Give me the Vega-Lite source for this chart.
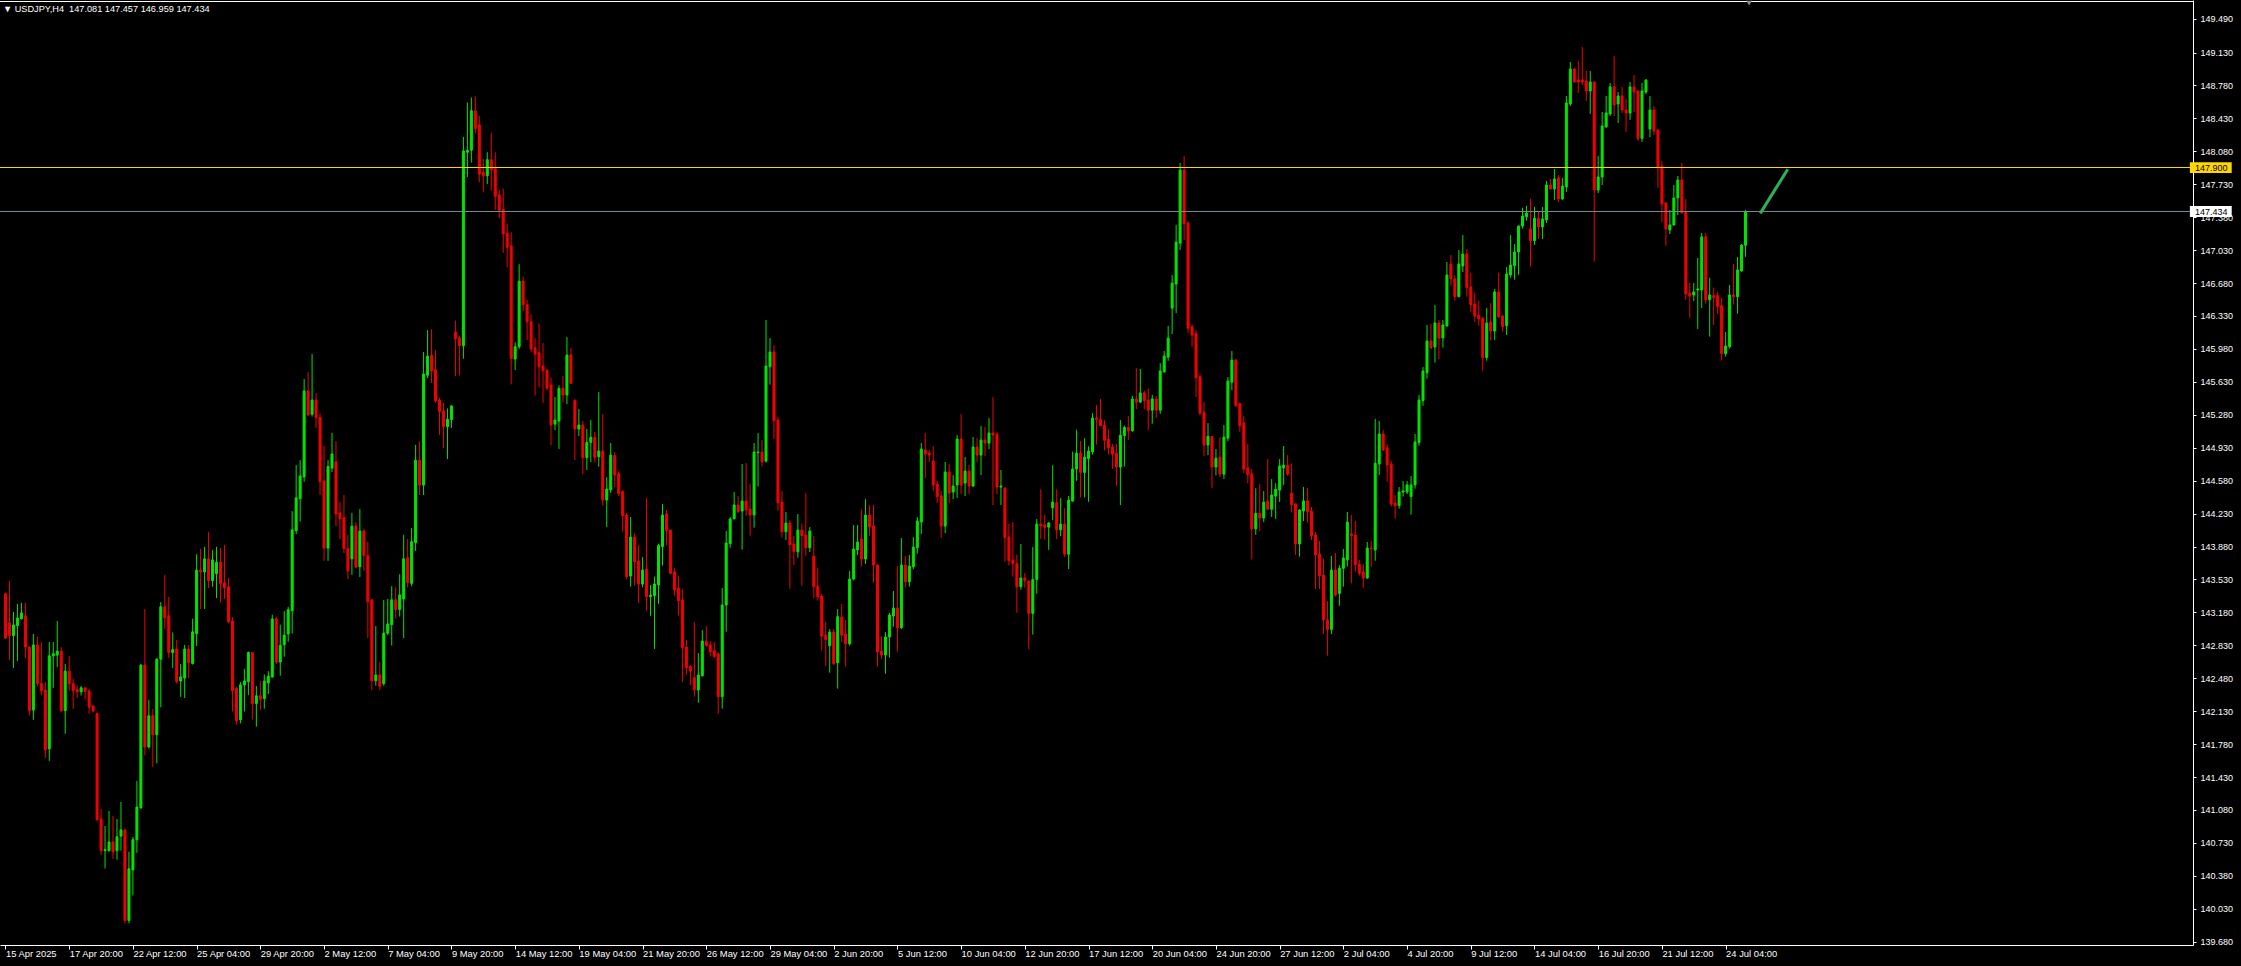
{
"$schema": "https://vega.github.io/schema/vega-lite/v6.json",
"width": 2193, "height": 945,
"autosize": {"type": "none"},
"padding": {"left": 0, "top": 0, "right": 48, "bottom": 21},
"background": "#000000",
"config": {"view": {"stroke": null}, "axis": {"grid": false, "labelOverlap": false}},
"title": {"text": "▼ USDJPY,H4\u00a0 147.081 147.457 146.959 147.434", "anchor": "start", "frame": "group", "orient": "top", "offset": -14, "dx": 3, "color": "#FFFFFF", "font": "Liberation Sans", "fontSize": 9.2, "fontWeight": "normal"},
"datasets": {
"candles": [
{"i":0,"o":143.378,"h":143.39,"l":142.896,"c":142.907},
{"i":1,"o":143.069,"h":143.514,"l":142.675,"c":142.934},
{"i":2,"o":142.934,"h":143.185,"l":142.59,"c":143.046},
{"i":3,"o":143.038,"h":143.27,"l":142.664,"c":143.12},
{"i":4,"o":143.112,"h":143.282,"l":143.104,"c":143.174},
{"i":5,"o":143.143,"h":143.282,"l":142.695,"c":142.811},
{"i":6,"o":142.811,"h":142.822,"l":142.084,"c":142.135},
{"i":7,"o":142.142,"h":142.95,"l":142.038,"c":142.834},
{"i":8,"o":142.834,"h":142.919,"l":142.393,"c":142.424},
{"i":9,"o":142.424,"h":142.865,"l":142.301,"c":142.347},
{"i":10,"o":142.355,"h":142.44,"l":141.633,"c":141.718},
{"i":11,"o":141.729,"h":142.865,"l":141.602,"c":142.718},
{"i":12,"o":142.718,"h":142.865,"l":142.378,"c":142.741},
{"i":13,"o":142.726,"h":143.089,"l":142.598,"c":142.768},
{"i":14,"o":142.768,"h":142.811,"l":142.12,"c":142.135},
{"i":15,"o":142.135,"h":142.633,"l":141.891,"c":142.556},
{"i":16,"o":142.556,"h":142.718,"l":142.347,"c":142.42},
{"i":17,"o":142.42,"h":142.478,"l":142.154,"c":142.347},
{"i":18,"o":142.359,"h":142.405,"l":142.27,"c":142.336},
{"i":19,"o":142.336,"h":142.397,"l":142.297,"c":142.378},
{"i":20,"o":142.378,"h":142.386,"l":142.258,"c":142.339},
{"i":21,"o":142.343,"h":142.366,"l":142.104,"c":142.173},
{"i":22,"o":142.185,"h":142.196,"l":142.115,"c":142.131},
{"i":23,"o":142.104,"h":142.115,"l":140.964,"c":140.976},
{"i":24,"o":140.984,"h":141.092,"l":140.601,"c":140.648},
{"i":25,"o":140.648,"h":140.91,"l":140.458,"c":140.659},
{"i":26,"o":140.648,"h":141.069,"l":140.636,"c":140.74},
{"i":27,"o":140.74,"h":141.018,"l":140.559,"c":140.636},
{"i":28,"o":140.648,"h":140.984,"l":140.551,"c":140.794},
{"i":29,"o":140.802,"h":141.165,"l":140.648,"c":140.868},
{"i":30,"o":140.868,"h":140.875,"l":139.875,"c":139.906},
{"i":31,"o":139.906,"h":140.636,"l":139.875,"c":140.455},
{"i":32,"o":140.443,"h":140.794,"l":140.173,"c":140.764},
{"i":33,"o":140.764,"h":141.389,"l":140.624,"c":141.111},
{"i":34,"o":141.103,"h":142.63,"l":141.092,"c":142.62},
{"i":35,"o":142.62,"h":143.216,"l":141.66,"c":141.749},
{"i":36,"o":141.749,"h":142.251,"l":141.733,"c":142.081},
{"i":37,"o":142.081,"h":142.154,"l":141.536,"c":141.88},
{"i":38,"o":141.88,"h":142.69,"l":141.575,"c":142.683},
{"i":39,"o":142.683,"h":143.29,"l":142.173,"c":143.239},
{"i":40,"o":143.239,"h":143.579,"l":143.004,"c":143.123},
{"i":41,"o":143.143,"h":143.344,"l":142.695,"c":142.753},
{"i":42,"o":142.753,"h":142.965,"l":142.587,"c":142.784},
{"i":43,"o":142.791,"h":142.888,"l":142.424,"c":142.444},
{"i":44,"o":142.451,"h":142.633,"l":142.282,"c":142.494},
{"i":45,"o":142.482,"h":142.834,"l":142.27,"c":142.791},
{"i":46,"o":142.791,"h":142.834,"l":142.482,"c":142.645},
{"i":47,"o":142.637,"h":143.112,"l":142.625,"c":142.973},
{"i":48,"o":142.954,"h":143.799,"l":142.822,"c":143.629},
{"i":49,"o":143.629,"h":143.853,"l":143.216,"c":143.61},
{"i":50,"o":143.61,"h":143.877,"l":143.216,"c":143.749},
{"i":51,"o":143.749,"h":144.035,"l":143.44,"c":143.518},
{"i":52,"o":143.518,"h":143.842,"l":143.452,"c":143.738},
{"i":53,"o":143.591,"h":143.877,"l":143.332,"c":143.714},
{"i":54,"o":143.714,"h":143.865,"l":143.286,"c":143.487},
{"i":55,"o":143.494,"h":143.896,"l":143.324,"c":143.44},
{"i":56,"o":143.452,"h":143.545,"l":143.066,"c":143.081},
{"i":57,"o":143.089,"h":143.131,"l":142.127,"c":142.347},
{"i":58,"o":142.37,"h":142.39,"l":141.988,"c":142.027},
{"i":59,"o":142.038,"h":142.44,"l":142.0,"c":142.409},
{"i":60,"o":142.409,"h":142.579,"l":142.127,"c":142.451},
{"i":61,"o":142.444,"h":142.764,"l":142.301,"c":142.753},
{"i":62,"o":142.753,"h":142.76,"l":142.042,"c":142.212},
{"i":63,"o":142.212,"h":142.397,"l":141.965,"c":142.293},
{"i":64,"o":142.293,"h":142.451,"l":142.142,"c":142.258},
{"i":65,"o":142.264,"h":142.52,"l":142.158,"c":142.449},
{"i":66,"o":142.431,"h":142.555,"l":142.313,"c":142.502},
{"i":67,"o":142.493,"h":143.154,"l":142.485,"c":143.11},
{"i":68,"o":143.11,"h":143.136,"l":142.63,"c":142.652},
{"i":69,"o":142.652,"h":143.049,"l":142.507,"c":142.828},
{"i":70,"o":142.837,"h":143.194,"l":142.709,"c":142.938},
{"i":71,"o":142.951,"h":143.238,"l":142.868,"c":143.207},
{"i":72,"o":143.198,"h":144.256,"l":142.956,"c":144.057},
{"i":73,"o":144.048,"h":144.745,"l":144.013,"c":144.397},
{"i":74,"o":144.388,"h":144.797,"l":144.145,"c":144.63},
{"i":75,"o":144.621,"h":145.661,"l":144.568,"c":145.533},
{"i":76,"o":145.533,"h":145.736,"l":145.273,"c":145.277},
{"i":77,"o":145.286,"h":145.925,"l":145.26,"c":145.436},
{"i":78,"o":145.436,"h":145.511,"l":145.141,"c":145.251},
{"i":79,"o":145.251,"h":145.295,"l":144.427,"c":144.568},
{"i":80,"o":144.577,"h":144.951,"l":143.727,"c":143.863},
{"i":81,"o":143.863,"h":144.797,"l":143.727,"c":144.731},
{"i":82,"o":144.714,"h":145.088,"l":144.67,"c":144.863},
{"i":83,"o":144.78,"h":145.0,"l":144.097,"c":144.225},
{"i":84,"o":144.238,"h":144.352,"l":143.96,"c":144.172},
{"i":85,"o":144.185,"h":144.427,"l":143.811,"c":143.859},
{"i":86,"o":143.859,"h":144.004,"l":143.533,"c":143.621},
{"i":87,"o":143.749,"h":144.238,"l":143.577,"c":144.097},
{"i":88,"o":144.097,"h":144.141,"l":143.656,"c":143.661},
{"i":89,"o":143.665,"h":144.278,"l":143.555,"c":144.044},
{"i":90,"o":144.044,"h":144.07,"l":143.621,"c":143.784},
{"i":91,"o":143.784,"h":143.93,"l":142.907,"c":143.295},
{"i":92,"o":143.313,"h":143.322,"l":142.352,"c":142.454},
{"i":93,"o":142.454,"h":143.035,"l":142.401,"c":142.515},
{"i":94,"o":142.515,"h":142.652,"l":142.352,"c":142.396},
{"i":95,"o":142.423,"h":143.313,"l":142.4,"c":142.96},
{"i":96,"o":142.96,"h":143.322,"l":142.94,"c":143.057},
{"i":97,"o":143.049,"h":143.458,"l":142.828,"c":143.313},
{"i":98,"o":143.313,"h":143.445,"l":143.115,"c":143.211},
{"i":99,"o":143.211,"h":143.586,"l":143.136,"c":143.366},
{"i":100,"o":143.322,"h":144.004,"l":142.907,"c":143.749},
{"i":101,"o":143.762,"h":143.96,"l":143.445,"c":143.498},
{"i":102,"o":143.489,"h":144.075,"l":143.458,"c":143.93},
{"i":103,"o":143.921,"h":144.96,"l":143.832,"c":144.797},
{"i":104,"o":144.797,"h":145.0,"l":144.427,"c":144.533},
{"i":105,"o":144.533,"h":145.947,"l":144.427,"c":145.713},
{"i":106,"o":145.7,"h":146.18,"l":145.669,"c":145.903},
{"i":107,"o":145.912,"h":146.189,"l":145.617,"c":145.744},
{"i":108,"o":145.758,"h":145.969,"l":145.409,"c":145.427},
{"i":109,"o":145.436,"h":145.462,"l":145.066,"c":145.313},
{"i":110,"o":145.322,"h":145.405,"l":144.929,"c":145.154},
{"i":111,"o":145.154,"h":145.348,"l":144.81,"c":145.233},
{"i":112,"o":145.229,"h":145.38,"l":145.141,"c":145.374},
{"i":113,"o":146.158,"h":146.282,"l":145.692,"c":146.088},
{"i":114,"o":146.097,"h":146.123,"l":145.7,"c":146.013},
{"i":115,"o":146.013,"h":148.233,"l":145.876,"c":148.083},
{"i":116,"o":148.07,"h":148.599,"l":147.806,"c":148.092},
{"i":117,"o":148.092,"h":148.652,"l":147.96,"c":148.511},
{"i":118,"o":148.511,"h":148.661,"l":148.269,"c":148.321},
{"i":119,"o":148.361,"h":148.454,"l":147.753,"c":147.837},
{"i":120,"o":147.854,"h":147.999,"l":147.643,"c":147.819},
{"i":121,"o":147.819,"h":148.07,"l":147.731,"c":147.991},
{"i":122,"o":147.991,"h":148.277,"l":147.661,"c":147.881},
{"i":123,"o":147.894,"h":148.07,"l":147.458,"c":147.603},
{"i":124,"o":147.617,"h":147.669,"l":147.37,"c":147.454},
{"i":125,"o":147.462,"h":147.683,"l":147.0,"c":147.202},
{"i":126,"o":147.211,"h":147.313,"l":146.846,"c":147.061},
{"i":127,"o":147.075,"h":147.22,"l":145.603,"c":145.876},
{"i":128,"o":145.872,"h":146.05,"l":145.755,"c":146.003},
{"i":129,"o":146.003,"h":146.88,"l":145.98,"c":146.7},
{"i":130,"o":146.7,"h":146.75,"l":146.38,"c":146.45},
{"i":131,"o":146.45,"h":146.5,"l":146.074,"c":146.269},
{"i":132,"o":146.269,"h":146.35,"l":145.95,"c":145.979},
{"i":133,"o":145.993,"h":146.095,"l":145.483,"c":145.925},
{"i":134,"o":145.94,"h":146.251,"l":145.571,"c":145.791},
{"i":135,"o":145.798,"h":146.042,"l":145.405,"c":145.748},
{"i":136,"o":145.755,"h":145.76,"l":145.543,"c":145.564},
{"i":137,"o":145.596,"h":145.677,"l":144.958,"c":145.171},
{"i":138,"o":145.182,"h":145.468,"l":145.118,"c":145.224},
{"i":139,"o":145.213,"h":145.593,"l":144.916,"c":145.561},
{"i":140,"o":145.561,"h":145.692,"l":145.415,"c":145.49},
{"i":141,"o":145.49,"h":146.106,"l":145.394,"c":145.915},
{"i":142,"o":145.915,"h":145.989,"l":145.607,"c":145.614},
{"i":143,"o":145.43,"h":145.447,"l":144.799,"c":145.128},
{"i":144,"o":145.128,"h":145.341,"l":145.054,"c":145.171},
{"i":145,"o":145.171,"h":145.213,"l":144.65,"c":144.824},
{"i":146,"o":144.824,"h":145.128,"l":144.693,"c":144.987},
{"i":147,"o":144.987,"h":145.224,"l":144.778,"c":145.04},
{"i":148,"o":145.04,"h":145.097,"l":144.771,"c":144.827},
{"i":149,"o":144.834,"h":145.522,"l":144.728,"c":144.895},
{"i":150,"o":144.895,"h":145.288,"l":144.314,"c":144.374},
{"i":151,"o":144.374,"h":144.618,"l":144.087,"c":144.491},
{"i":152,"o":144.48,"h":144.98,"l":144.448,"c":144.852},
{"i":153,"o":144.845,"h":144.884,"l":144.512,"c":144.64},
{"i":154,"o":144.654,"h":144.682,"l":144.416,"c":144.445},
{"i":155,"o":144.462,"h":144.48,"l":144.044,"c":144.207},
{"i":156,"o":144.214,"h":144.236,"l":143.531,"c":143.559},
{"i":157,"o":143.566,"h":144.193,"l":143.453,"c":143.981},
{"i":158,"o":143.981,"h":144.023,"l":143.464,"c":143.719},
{"i":159,"o":143.726,"h":143.896,"l":143.279,"c":143.481},
{"i":160,"o":143.481,"h":143.768,"l":143.446,"c":143.63},
{"i":161,"o":143.641,"h":144.395,"l":143.194,"c":143.347},
{"i":162,"o":143.347,"h":143.471,"l":143.145,"c":143.364},
{"i":163,"o":143.357,"h":143.559,"l":142.791,"c":143.481},
{"i":164,"o":143.471,"h":143.91,"l":143.272,"c":143.889},
{"i":165,"o":143.878,"h":144.331,"l":143.676,"c":144.215},
{"i":166,"o":144.225,"h":144.268,"l":143.896,"c":144.048},
{"i":167,"o":144.055,"h":144.06,"l":143.584,"c":143.595},
{"i":168,"o":143.609,"h":143.651,"l":143.357,"c":143.418},
{"i":169,"o":143.439,"h":143.57,"l":143.145,"c":143.304},
{"i":170,"o":143.311,"h":143.428,"l":142.443,"c":142.805},
{"i":171,"o":142.812,"h":142.886,"l":142.518,"c":142.592},
{"i":172,"o":142.603,"h":142.62,"l":142.408,"c":142.557},
{"i":173,"o":142.486,"h":143.077,"l":142.284,"c":142.358},
{"i":174,"o":142.355,"h":142.748,"l":142.22,"c":142.514},
{"i":175,"o":142.507,"h":142.992,"l":142.497,"c":142.875},
{"i":176,"o":142.875,"h":143.035,"l":142.815,"c":142.826},
{"i":177,"o":142.833,"h":142.875,"l":142.709,"c":142.762},
{"i":178,"o":142.773,"h":142.865,"l":142.698,"c":142.709},
{"i":179,"o":142.737,"h":142.759,"l":142.103,"c":142.284},
{"i":180,"o":142.284,"h":143.439,"l":142.156,"c":143.258},
{"i":181,"o":143.258,"h":144.044,"l":142.975,"c":143.917},
{"i":182,"o":143.91,"h":144.193,"l":143.867,"c":144.172},
{"i":183,"o":144.175,"h":144.459,"l":144.165,"c":144.321},
{"i":184,"o":144.321,"h":144.416,"l":144.236,"c":144.25},
{"i":185,"o":144.257,"h":144.756,"l":143.846,"c":144.363},
{"i":186,"o":144.363,"h":144.767,"l":144.207,"c":144.268},
{"i":187,"o":144.278,"h":144.547,"l":143.995,"c":144.215},
{"i":188,"o":144.215,"h":144.98,"l":144.08,"c":144.884},
{"i":189,"o":144.877,"h":145.086,"l":144.516,"c":144.884},
{"i":190,"o":144.884,"h":145.012,"l":144.728,"c":144.781},
{"i":191,"o":144.788,"h":146.287,"l":144.771,"c":145.798},
{"i":192,"o":145.791,"h":146.095,"l":145.6,"c":145.947},
{"i":193,"o":145.947,"h":146.02,"l":145.022,"c":145.217},
{"i":194,"o":145.224,"h":145.26,"l":144.26,"c":144.345},
{"i":195,"o":144.352,"h":144.469,"l":143.973,"c":144.037},
{"i":196,"o":144.037,"h":144.246,"l":143.949,"c":144.129},
{"i":197,"o":144.129,"h":144.161,"l":143.431,"c":143.899},
{"i":198,"o":143.906,"h":143.991,"l":143.683,"c":143.825},
{"i":199,"o":143.825,"h":144.225,"l":143.761,"c":144.055},
{"i":200,"o":144.055,"h":144.126,"l":143.463,"c":143.995},
{"i":201,"o":144.002,"h":144.448,"l":143.782,"c":143.867},
{"i":202,"o":143.867,"h":144.087,"l":143.821,"c":144.044},
{"i":203,"o":143.779,"h":143.991,"l":143.329,"c":143.453},
{"i":204,"o":143.46,"h":143.651,"l":143.304,"c":143.346},
{"i":205,"o":143.354,"h":143.375,"l":142.773,"c":142.928},
{"i":206,"o":142.939,"h":143.077,"l":142.61,"c":142.89},
{"i":207,"o":142.826,"h":143.003,"l":142.539,"c":142.971},
{"i":208,"o":142.971,"h":143.003,"l":142.62,"c":142.635},
{"i":209,"o":142.645,"h":143.215,"l":142.369,"c":143.134},
{"i":210,"o":143.13,"h":143.269,"l":142.868,"c":142.939},
{"i":211,"o":142.95,"h":143.098,"l":142.603,"c":142.847},
{"i":212,"o":142.847,"h":143.619,"l":142.826,"c":143.534},
{"i":213,"o":143.534,"h":144.108,"l":143.52,"c":143.853},
{"i":214,"o":143.843,"h":144.108,"l":143.789,"c":143.927},
{"i":215,"o":143.959,"h":144.278,"l":143.665,"c":143.747},
{"i":216,"o":143.747,"h":144.384,"l":143.694,"c":144.214},
{"i":217,"o":144.214,"h":144.321,"l":143.991,"c":144.087},
{"i":218,"o":144.098,"h":144.321,"l":143.495,"c":143.683},
{"i":219,"o":143.683,"h":143.69,"l":142.603,"c":142.762},
{"i":220,"o":142.769,"h":142.928,"l":142.684,"c":142.727},
{"i":221,"o":142.727,"h":142.971,"l":142.528,"c":142.918},
{"i":222,"o":142.918,"h":143.173,"l":142.698,"c":143.152},
{"i":223,"o":143.141,"h":143.407,"l":143.028,"c":143.226},
{"i":224,"o":143.226,"h":143.672,"l":142.762,"c":143.017},
{"i":225,"o":143.017,"h":143.97,"l":143.005,"c":143.683},
{"i":226,"o":143.683,"h":143.779,"l":143.442,"c":143.506},
{"i":227,"o":143.506,"h":143.789,"l":143.453,"c":143.672},
{"i":228,"o":143.665,"h":143.981,"l":143.641,"c":143.874},
{"i":229,"o":143.867,"h":144.193,"l":143.803,"c":144.151},
{"i":230,"o":144.14,"h":144.979,"l":144.012,"c":144.916},
{"i":231,"o":144.905,"h":145.086,"l":144.608,"c":144.863},
{"i":232,"o":144.873,"h":144.905,"l":144.778,"c":144.852},
{"i":233,"o":144.788,"h":144.948,"l":144.469,"c":144.533},
{"i":234,"o":144.544,"h":144.576,"l":144.342,"c":144.409},
{"i":235,"o":144.416,"h":144.469,"l":143.97,"c":144.097},
{"i":236,"o":144.097,"h":144.778,"l":144.023,"c":144.671},
{"i":237,"o":144.671,"h":144.756,"l":144.342,"c":144.448},
{"i":238,"o":144.459,"h":144.639,"l":144.384,"c":144.523},
{"i":239,"o":144.533,"h":145.064,"l":144.395,"c":145.022},
{"i":240,"o":145.022,"h":145.288,"l":144.437,"c":144.533},
{"i":241,"o":144.554,"h":144.831,"l":144.416,"c":144.682},
{"i":242,"o":144.682,"h":144.746,"l":144.437,"c":144.523},
{"i":243,"o":144.523,"h":145.043,"l":144.512,"c":144.937},
{"i":244,"o":144.937,"h":145.033,"l":144.778,"c":144.852},
{"i":245,"o":144.852,"h":145.16,"l":144.639,"c":145.011},
{"i":246,"o":145.011,"h":145.15,"l":144.841,"c":144.98},
{"i":247,"o":144.98,"h":145.245,"l":144.916,"c":145.086},
{"i":248,"o":145.086,"h":145.468,"l":144.321,"c":145.065},
{"i":249,"o":145.075,"h":145.096,"l":144.437,"c":144.512},
{"i":250,"o":144.512,"h":144.693,"l":144.321,"c":144.523},
{"i":251,"o":144.501,"h":144.51,"l":143.718,"c":143.973},
{"i":252,"o":143.981,"h":144.119,"l":143.676,"c":143.729},
{"i":253,"o":143.736,"h":144.14,"l":143.559,"c":143.697},
{"i":254,"o":143.697,"h":143.793,"l":143.176,"c":143.453},
{"i":255,"o":143.453,"h":143.906,"l":143.421,"c":143.545},
{"i":256,"o":143.545,"h":143.598,"l":143.442,"c":143.517},
{"i":257,"o":143.513,"h":143.52,"l":142.787,"c":143.169},
{"i":258,"o":143.169,"h":143.874,"l":142.943,"c":143.529},
{"i":259,"o":143.529,"h":144.172,"l":143.378,"c":144.118},
{"i":260,"o":144.118,"h":144.488,"l":143.96,"c":144.1},
{"i":261,"o":144.111,"h":144.219,"l":143.953,"c":144.086},
{"i":262,"o":144.086,"h":144.14,"l":143.845,"c":144.129},
{"i":263,"o":144.291,"h":144.744,"l":144.158,"c":144.352},
{"i":264,"o":144.345,"h":144.488,"l":143.96,"c":144.057},
{"i":265,"o":144.057,"h":144.395,"l":143.989,"c":144.118},
{"i":266,"o":144.118,"h":144.287,"l":143.77,"c":143.799},
{"i":267,"o":143.799,"h":144.417,"l":143.64,"c":144.373},
{"i":268,"o":144.363,"h":144.887,"l":144.355,"c":144.704},
{"i":269,"o":144.704,"h":145.121,"l":144.578,"c":144.873},
{"i":270,"o":144.873,"h":145.002,"l":144.402,"c":144.668},
{"i":271,"o":144.668,"h":145.031,"l":144.402,"c":144.83},
{"i":272,"o":144.815,"h":144.945,"l":144.355,"c":144.894},
{"i":273,"o":144.887,"h":145.297,"l":144.858,"c":145.246},
{"i":274,"o":145.246,"h":145.383,"l":144.964,"c":145.232},
{"i":275,"o":145.232,"h":145.448,"l":145.157,"c":145.164},
{"i":276,"o":145.171,"h":145.225,"l":144.901,"c":145.009},
{"i":277,"o":145.02,"h":145.124,"l":144.858,"c":144.93},
{"i":278,"o":144.937,"h":144.97,"l":144.704,"c":144.862},
{"i":279,"o":144.873,"h":144.97,"l":144.524,"c":144.725},
{"i":280,"o":144.725,"h":145.225,"l":144.32,"c":145.063},
{"i":281,"o":145.06,"h":145.164,"l":144.729,"c":145.146},
{"i":282,"o":145.146,"h":145.264,"l":145.013,"c":145.11},
{"i":283,"o":145.11,"h":145.48,"l":145.1,"c":145.448},
{"i":284,"o":145.448,"h":145.775,"l":145.34,"c":145.415},
{"i":285,"o":145.415,"h":145.767,"l":145.404,"c":145.512},
{"i":286,"o":145.512,"h":145.534,"l":145.34,"c":145.43},
{"i":287,"o":145.437,"h":145.563,"l":145.121,"c":145.329},
{"i":288,"o":145.329,"h":145.491,"l":145.185,"c":145.448},
{"i":289,"o":145.448,"h":145.48,"l":145.246,"c":145.329},
{"i":290,"o":145.329,"h":145.829,"l":145.29,"c":145.746},
{"i":291,"o":145.735,"h":145.958,"l":145.73,"c":145.904},
{"i":292,"o":145.893,"h":146.224,"l":145.854,"c":146.094},
{"i":293,"o":146.414,"h":146.766,"l":146.138,"c":146.68},
{"i":294,"o":146.669,"h":147.298,"l":146.36,"c":147.115},
{"i":295,"o":147.104,"h":147.956,"l":147.032,"c":147.88},
{"i":296,"o":147.88,"h":148.031,"l":147.14,"c":147.309},
{"i":297,"o":147.316,"h":147.338,"l":146.148,"c":146.202},
{"i":298,"o":146.213,"h":146.245,"l":146.001,"c":146.127},
{"i":299,"o":146.141,"h":146.181,"l":145.469,"c":145.674},
{"i":300,"o":145.685,"h":145.714,"l":145.275,"c":145.297},
{"i":301,"o":145.307,"h":145.415,"l":144.84,"c":144.959},
{"i":302,"o":144.959,"h":145.192,"l":144.851,"c":145.052},
{"i":303,"o":145.049,"h":145.055,"l":144.503,"c":144.725},
{"i":304,"o":144.725,"h":144.916,"l":144.636,"c":144.819},
{"i":305,"o":144.83,"h":145.042,"l":144.618,"c":144.65},
{"i":306,"o":144.65,"h":145.171,"l":144.596,"c":145.042},
{"i":307,"o":145.031,"h":145.681,"l":144.998,"c":145.638},
{"i":308,"o":145.627,"h":145.958,"l":145.541,"c":145.861},
{"i":309,"o":145.861,"h":145.872,"l":145.361,"c":145.376},
{"i":310,"o":145.397,"h":145.408,"l":145.099,"c":145.164},
{"i":311,"o":145.192,"h":145.264,"l":144.661,"c":144.704},
{"i":312,"o":144.715,"h":144.97,"l":144.553,"c":144.643},
{"i":313,"o":144.65,"h":144.704,"l":143.744,"c":144.068},
{"i":314,"o":144.068,"h":144.499,"l":144.003,"c":144.233},
{"i":315,"o":144.233,"h":144.542,"l":144.043,"c":144.183},
{"i":316,"o":144.183,"h":144.47,"l":144.14,"c":144.352},
{"i":317,"o":144.363,"h":144.808,"l":144.266,"c":144.276},
{"i":318,"o":144.276,"h":144.596,"l":144.194,"c":144.427},
{"i":319,"o":144.416,"h":144.553,"l":144.172,"c":144.488},
{"i":320,"o":144.481,"h":144.808,"l":144.352,"c":144.736},
{"i":321,"o":144.715,"h":144.948,"l":144.535,"c":144.744},
{"i":322,"o":144.744,"h":144.851,"l":144.632,"c":144.65},
{"i":323,"o":144.445,"h":144.764,"l":144.24,"c":144.325},
{"i":324,"o":144.332,"h":144.34,"l":143.79,"c":143.907},
{"i":325,"o":143.907,"h":144.275,"l":143.772,"c":144.268},
{"i":326,"o":144.257,"h":144.512,"l":144.151,"c":144.364},
{"i":327,"o":144.364,"h":144.502,"l":144.133,"c":144.25},
{"i":328,"o":144.257,"h":144.3,"l":143.949,"c":143.995},
{"i":329,"o":144.002,"h":144.034,"l":143.428,"c":143.79},
{"i":330,"o":143.8,"h":143.938,"l":143.428,"c":143.57},
{"i":331,"o":143.577,"h":143.75,"l":142.95,"c":143.1},
{"i":332,"o":143.1,"h":143.3,"l":142.72,"c":143.0},
{"i":333,"o":143.0,"h":143.779,"l":142.95,"c":143.63},
{"i":334,"o":143.63,"h":143.811,"l":143.347,"c":143.365},
{"i":335,"o":143.382,"h":143.683,"l":143.25,"c":143.648},
{"i":336,"o":143.648,"h":143.853,"l":143.453,"c":143.758},
{"i":337,"o":143.737,"h":144.247,"l":143.666,"c":144.14},
{"i":338,"o":144.013,"h":144.215,"l":143.489,"c":143.995},
{"i":339,"o":144.002,"h":144.151,"l":143.613,"c":143.687},
{"i":340,"o":143.694,"h":143.737,"l":143.57,"c":143.595},
{"i":341,"o":143.609,"h":143.694,"l":143.443,"c":143.545},
{"i":342,"o":143.545,"h":143.928,"l":143.538,"c":143.864},
{"i":343,"o":143.864,"h":143.938,"l":143.666,"c":143.857},
{"i":344,"o":143.843,"h":145.235,"l":143.729,"c":144.764},
{"i":345,"o":144.757,"h":145.214,"l":144.64,"c":145.076},
{"i":346,"o":145.076,"h":145.118,"l":144.895,"c":144.906},
{"i":347,"o":144.927,"h":144.969,"l":144.569,"c":144.746},
{"i":348,"o":144.757,"h":144.789,"l":144.303,"c":144.332},
{"i":349,"o":144.342,"h":144.427,"l":144.176,"c":144.314},
{"i":350,"o":144.314,"h":144.512,"l":144.282,"c":144.459},
{"i":351,"o":144.459,"h":144.576,"l":144.41,"c":144.47},
{"i":352,"o":144.459,"h":144.576,"l":144.438,"c":144.534},
{"i":353,"o":144.41,"h":144.629,"l":144.218,"c":144.534},
{"i":354,"o":144.534,"h":145.076,"l":144.495,"c":144.991},
{"i":355,"o":144.983,"h":145.49,"l":144.952,"c":145.437},
{"i":356,"o":145.43,"h":145.788,"l":145.377,"c":145.745},
{"i":357,"o":145.727,"h":146.234,"l":145.664,"c":146.064},
{"i":358,"o":146.064,"h":146.245,"l":145.979,"c":145.99},
{"i":359,"o":146.0,"h":146.446,"l":145.834,"c":146.255},
{"i":360,"o":146.255,"h":146.287,"l":145.873,"c":146.096},
{"i":361,"o":146.096,"h":146.287,"l":145.993,"c":146.234},
{"i":362,"o":146.223,"h":146.903,"l":146.22,"c":146.765},
{"i":363,"o":146.882,"h":146.978,"l":146.652,"c":146.726},
{"i":364,"o":146.723,"h":146.765,"l":146.493,"c":146.535},
{"i":365,"o":146.535,"h":147.031,"l":146.53,"c":146.882},
{"i":366,"o":146.861,"h":147.19,"l":146.797,"c":146.988},
{"i":367,"o":146.988,"h":147.042,"l":146.535,"c":146.631},
{"i":368,"o":146.638,"h":146.787,"l":146.369,"c":146.45},
{"i":369,"o":146.457,"h":146.574,"l":146.269,"c":146.33},
{"i":370,"o":146.337,"h":146.489,"l":146.227,"c":146.301},
{"i":371,"o":146.308,"h":146.315,"l":145.749,"c":145.887},
{"i":372,"o":145.887,"h":146.415,"l":145.855,"c":146.255},
{"i":373,"o":146.266,"h":146.468,"l":146.067,"c":146.17},
{"i":374,"o":146.17,"h":146.616,"l":146.074,"c":146.585},
{"i":375,"o":146.585,"h":146.787,"l":146.312,"c":146.319},
{"i":376,"o":146.33,"h":146.34,"l":146.163,"c":146.216},
{"i":377,"o":146.227,"h":146.85,"l":146.128,"c":146.776},
{"i":378,"o":146.765,"h":147.19,"l":146.737,"c":146.872},
{"i":379,"o":146.864,"h":147.095,"l":146.716,"c":147.01},
{"i":380,"o":147.01,"h":147.29,"l":146.769,"c":147.286},
{"i":381,"o":147.286,"h":147.48,"l":147.258,"c":147.392},
{"i":382,"o":147.385,"h":147.5,"l":147.343,"c":147.424},
{"i":383,"o":147.255,"h":147.573,"l":146.854,"c":147.131},
{"i":384,"o":147.131,"h":147.488,"l":147.085,"c":147.368},
{"i":385,"o":147.368,"h":147.439,"l":147.148,"c":147.276},
{"i":386,"o":147.276,"h":147.488,"l":147.148,"c":147.361},
{"i":387,"o":147.35,"h":147.765,"l":147.318,"c":147.722},
{"i":388,"o":147.722,"h":147.786,"l":147.675,"c":147.68},
{"i":389,"o":147.68,"h":147.892,"l":147.563,"c":147.786},
{"i":390,"o":147.797,"h":147.828,"l":147.541,"c":147.573},
{"i":391,"o":147.573,"h":147.797,"l":147.565,"c":147.711},
{"i":392,"o":147.701,"h":148.668,"l":147.648,"c":148.594},
{"i":393,"o":148.583,"h":149.029,"l":148.562,"c":148.955},
{"i":394,"o":148.955,"h":148.965,"l":148.806,"c":148.817},
{"i":395,"o":148.838,"h":149.04,"l":148.7,"c":148.817},
{"i":396,"o":148.838,"h":149.189,"l":148.785,"c":148.817},
{"i":397,"o":148.827,"h":148.934,"l":148.615,"c":148.721},
{"i":398,"o":148.721,"h":148.934,"l":148.477,"c":148.817},
{"i":399,"o":148.817,"h":148.825,"l":146.907,"c":147.669},
{"i":400,"o":147.669,"h":148.03,"l":147.637,"c":147.807},
{"i":401,"o":147.807,"h":148.498,"l":147.722,"c":148.349},
{"i":402,"o":148.339,"h":148.668,"l":148.33,"c":148.487},
{"i":403,"o":148.477,"h":148.806,"l":148.455,"c":148.764},
{"i":404,"o":148.764,"h":149.093,"l":148.455,"c":148.572},
{"i":405,"o":148.583,"h":148.71,"l":148.381,"c":148.668},
{"i":406,"o":148.668,"h":148.764,"l":148.487,"c":148.519},
{"i":407,"o":148.519,"h":148.636,"l":148.285,"c":148.487},
{"i":408,"o":148.487,"h":148.817,"l":148.413,"c":148.764},
{"i":409,"o":148.764,"h":148.891,"l":148.498,"c":148.71},
{"i":410,"o":148.721,"h":148.732,"l":148.19,"c":148.218},
{"i":411,"o":148.218,"h":148.806,"l":148.179,"c":148.721},
{"i":412,"o":148.71,"h":148.845,"l":148.689,"c":148.838},
{"i":413,"o":148.317,"h":148.668,"l":148.232,"c":148.519},
{"i":414,"o":148.519,"h":148.562,"l":148.253,"c":148.296},
{"i":415,"o":148.307,"h":148.317,"l":147.69,"c":147.917},
{"i":416,"o":147.917,"h":147.977,"l":147.329,"c":147.52},
{"i":417,"o":147.531,"h":147.535,"l":147.074,"c":147.255},
{"i":418,"o":147.244,"h":147.456,"l":147.201,"c":147.297},
{"i":419,"o":147.297,"h":147.722,"l":147.29,"c":147.584},
{"i":420,"o":147.584,"h":147.818,"l":147.403,"c":147.775},
{"i":421,"o":147.775,"h":147.956,"l":147.42,"c":147.428},
{"i":422,"o":147.439,"h":147.573,"l":146.5,"c":146.564},
{"i":423,"o":146.574,"h":146.681,"l":146.312,"c":146.542},
{"i":424,"o":146.553,"h":146.681,"l":146.489,"c":146.585},
{"i":425,"o":146.606,"h":146.946,"l":146.192,"c":146.617},
{"i":426,"o":146.606,"h":147.212,"l":146.415,"c":147.17},
{"i":427,"o":147.17,"h":147.212,"l":146.461,"c":146.504},
{"i":428,"o":146.504,"h":146.737,"l":146.11,"c":146.553},
{"i":429,"o":146.546,"h":146.631,"l":146.234,"c":146.525},
{"i":430,"o":146.546,"h":146.589,"l":146.355,"c":146.429},
{"i":431,"o":146.44,"h":146.525,"l":145.855,"c":145.93},
{"i":432,"o":145.93,"h":146.16,"l":145.898,"c":146.011},
{"i":433,"o":146.004,"h":146.659,"l":145.983,"c":146.553},
{"i":434,"o":146.553,"h":146.882,"l":146.45,"c":146.535},
{"i":435,"o":146.535,"h":146.957,"l":146.355,"c":146.819},
{"i":436,"o":146.808,"h":147.095,"l":146.801,"c":147.084},
{"i":437,"o":147.081,"h":147.457,"l":146.959,"c":147.434}
],
"proj": [{"i":440.7,"p":147.42},{"i":447.6,"p":147.89}]
},
"layer": [
{"data": {"name": "candles"}, "mark": {"type": "rule", "strokeWidth": 1},
 "encoding": {
  "x": {"field": "i", "type": "quantitative", "scale": {"domain": [-0.125, 548.125], "nice": false, "zero": false},
   "axis": {"orient": "bottom", "title": null, "tickCount": 100, "values": [0,16,32,48,64,80,96,112,128,144,160,176,192,208,224,240,256,272,288,304,320,336,352,368,384,400,416,432],
    "labelExpr": "['15 Apr 2025','17 Apr 20:00','22 Apr 12:00','25 Apr 04:00','29 Apr 20:00','2 May 12:00','7 May 04:00','9 May 20:00','14 May 12:00','19 May 04:00','21 May 20:00','26 May 12:00','29 May 04:00','2 Jun 20:00','5 Jun 12:00','10 Jun 04:00','12 Jun 20:00','17 Jun 12:00','20 Jun 04:00','24 Jun 20:00','27 Jun 12:00','2 Jul 04:00','4 Jul 20:00','9 Jul 12:00','14 Jul 04:00','16 Jul 20:00','21 Jul 12:00','24 Jul 04:00'][round(datum.value/16)]",
    "domainColor": "#FFFFFF", "domainWidth": 1, "tickColor": "#FFFFFF", "tickSize": 4, "tickWidth": 1,
    "labelColor": "#FFFFFF", "labelFont": "Liberation Sans", "labelFontSize": 9.4, "labelAlign": "left", "labelBaseline": "top", "labelPadding": 0,
    "labelOverlap": false, "labelFlush": false, "labelBound": false, "grid": false}},
  "y": {"field": "l", "type": "quantitative", "scale": {"domain": [139.645, 149.688], "nice": false, "zero": false},
   "axis": {"orient": "right", "title": null, "tickCount": 100, "values": [139.68,140.03,140.38,140.73,141.08,141.43,141.78,142.13,142.48,142.83,143.18,143.53,143.88,144.23,144.58,144.93,145.28,145.63,145.98,146.33,146.68,147.03,147.38,147.73,148.08,148.43,148.78,149.13,149.49],
    "format": ".3f", "domainColor": "#FFFFFF", "domainWidth": 1, "tickColor": "#FFFFFF", "tickSize": 3, "tickWidth": 1,
    "labelColor": "#FFFFFF", "labelFont": "Liberation Sans", "labelFontSize": 9, "labelPadding": 4,
    "labelOverlap": false, "labelFlush": false, "labelBound": false, "grid": false}},
  "y2": {"field": "h"},
  "color": {"condition": {"test": "datum.c >= datum.o", "value": "#00E400"}, "value": "#F00000"}
 }},
{"data": {"name": "candles"}, "mark": {"type": "bar", "size": 2, "strokeWidth": 1},
 "encoding": {
  "x": {"field": "i", "type": "quantitative"},
  "y": {"field": "o", "type": "quantitative"},
  "y2": {"field": "c"},
  "fill": {"condition": {"test": "datum.c >= datum.o", "value": "#00E400"}, "value": "#F00000"},
  "stroke": {"condition": {"test": "datum.c >= datum.o", "value": "#00E400"}, "value": "#F00000"}
 }},
{"data": {"values": [{"p": 149.672}]}, "mark": {"type": "rule", "color": "#FFFFFF", "strokeWidth": 1},
 "encoding": {"y": {"field": "p", "type": "quantitative"}}},
{"data": {"values": [{"p": 147.9}]}, "mark": {"type": "rule", "color": "#FFD700", "strokeWidth": 1, "yOffset": -0.75},
 "encoding": {"y": {"field": "p", "type": "quantitative"}}},
{"data": {"values": [{"p": 147.434}]}, "mark": {"type": "rule", "color": "#778899", "strokeWidth": 1, "yOffset": -0.6},
 "encoding": {"y": {"field": "p", "type": "quantitative"}}},
{"data": {"values": [{}]}, "mark": {"type": "rect", "color": "#FFD700", "clip": false},
 "encoding": {"x": {"datum": 548.6}, "x2": {"datum": 559.1}, "y": {"datum": 147.965}, "y2": {"datum": 147.85}}},
{"data": {"values": [{}]}, "mark": {"type": "text", "text": "147.900", "color": "#000000", "align": "left", "baseline": "middle", "font": "Liberation Sans", "fontSize": 9, "clip": false},
 "encoding": {"x": {"datum": 549.9}, "y": {"datum": 147.905}}},
{"data": {"values": [{}]}, "mark": {"type": "rect", "color": "#FFFFFF", "clip": false},
 "encoding": {"x": {"datum": 548.6}, "x2": {"datum": 559.1}, "y": {"datum": 147.498}, "y2": {"datum": 147.383}}},
{"data": {"values": [{}]}, "mark": {"type": "text", "text": "147.434", "color": "#000000", "align": "left", "baseline": "middle", "font": "Liberation Sans", "fontSize": 9, "clip": false},
 "encoding": {"x": {"datum": 549.9}, "y": {"datum": 147.44}}},
{"data": {"name": "proj"}, "mark": {"type": "line", "color": "#2EAF5A", "strokeWidth": 3},
 "encoding": {"x": {"field": "i", "type": "quantitative"}, "y": {"field": "p", "type": "quantitative"}}},
{"data": {"values": [{}]}, "mark": {"type": "point", "shape": "triangle-down", "filled": true, "size": 30, "color": "#8C8C8C", "opacity": 1},
 "encoding": {"x": {"datum": 437.9}, "y": {"datum": 149.655}}}
]
}
